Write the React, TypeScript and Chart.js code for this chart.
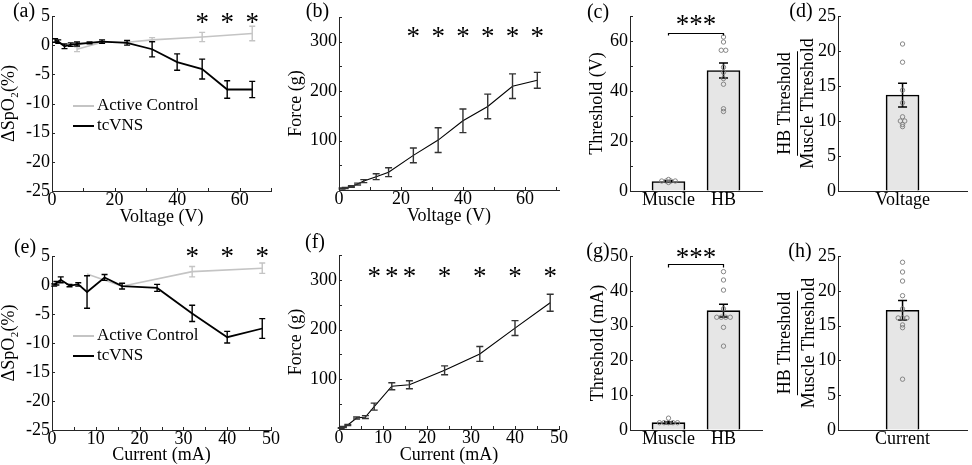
import React, { useEffect, useRef } from 'react';
import { Chart, registerables } from 'chart.js';

Chart.register(...registerables);

const FONT = "'Liberation Serif', 'Times New Roman', Times, serif";
Chart.defaults.font.family = FONT;

// ---------------- data ----------------
// (a) SpO2 change vs stimulation voltage
const voltageV = [1, 2, 4, 6, 8, 12, 16, 24, 32, 40, 48, 56, 64];
const spo2VoltageTcvns = [0.8, 0.6, -0.2, 0.1, 0.2, 0.4, 0.6, 0.4, -0.7, -2.9, -4.1, -7.6, -7.6];
const spo2VoltageTcvnsSem = [0.3, 0.3, 0.4, 0.3, 0.35, 0.15, 0.3, 0.4, 1.3, 1.4, 1.7, 1.5, 1.4];
const voltageControlV = [8, 16, 24, 32, 48, 64];
const spo2VoltageControl = [-0.7, 0.5, 0.5, 0.9, 1.4, 2.0];
const spo2VoltageControlSem = [0.4, 0.2, 0.2, 0.4, 0.8, 1.25];
const spo2VoltageStars = [48, 56, 64];

// (b) force vs voltage
const forceVoltage = [3, 4, 7, 12, 18, 27, 36, 70, 101, 140, 169, 210, 222];
const forceVoltageSem = [1, 1, 1.5, 2, 3, 6, 9, 15, 25, 24, 25, 25, 16];
const forceVoltageStars = [24, 32, 40, 48, 56, 64];

// (e) SpO2 change vs current
const currentMA = [0.5, 1, 2, 4, 6, 8, 12, 16, 24, 32, 40, 48];
const spo2CurrentTcvns = [0.0, 0.3, 0.9, -0.1, 0.1, -1.2, 1.3, -0.2, -0.5, -4.9, -9.0, -7.5];
const spo2CurrentTcvnsSem = [0.2, 0.3, 0.5, 0.2, 0.3, 2.8, 0.5, 0.5, 0.6, 1.4, 1.0, 1.7];
const currentControlMA = [8, 16, 32, 48];
const spo2CurrentControl = [1.9, -0.2, 2.3, 2.9];
const spo2CurrentControlSem = [0, 0, 0.9, 0.9];
const spo2CurrentStars = [32, 40, 48];

// (f) force vs current
const forceCurrent = [2, 4, 8, 22, 24, 45, 86, 89, 118, 151, 203, 254];
const forceCurrentSem = [0.5, 1, 1, 2, 3, 7, 7, 8, 9, 15, 15, 17];
const forceCurrentStars = [8, 12, 16, 24, 32, 40, 48];

// (c) / (g) thresholds
const groups = ['Muscle', 'HB'];
const thresholdV = [3.8, 48.2];
const thresholdVSem = [0.3, 3.0];
const thresholdVMuscleDots = [4.0, 4.0, 4.0, 4.0, 4.6, 3.4];
const thresholdVHbDots = [61.6, 59.6, 56.3, 56.3, 49.5, 47.5, 45.0, 42.7, 32.9, 31.8];
const thresholdMA = [2.1, 34.3];
const thresholdMASem = [0.3, 1.8];
const thresholdMAMuscleDots = [2.1, 2.1, 2.1, 2.1, 2.1, 3.4];
const thresholdMAHbDots = [45.5, 43.1, 40.2, 34.8, 32.4, 32.4, 32.4, 32.4, 29.5, 24.1];

// (d) / (h) HB threshold / muscle threshold ratio
const ratioVoltageCat = ['Voltage'];
const ratioVoltage = [13.7];
const ratioVoltageSem = [1.7];
const ratioVoltageDots = [21.0, 18.4, 14.4, 12.6, 10.6, 10.0, 10.0, 9.5, 9.2];
const ratioCurrentCat = ['Current'];
const ratioCurrent = [17.2];
const ratioCurrentSem = [1.4];
const ratioCurrentDots = [24.1, 22.7, 21.4, 19.3, 17.4, 16.1, 16.1, 16.1, 15.1, 14.7, 7.3];

// tick values
const spo2Ticks = [-25, -20, -15, -10, -5, 0, 5];
const voltageTicks = [0, 10, 20, 30, 40, 50, 60, 70];
const voltageLabels = [0, 20, 40, 60];
const forceTicks = [50, 100, 150, 200, 250, 300, 350];
const forceLabels = [100, 200, 300];
const currentTicks = [0, 5, 10, 15, 20, 25, 30, 35, 40, 45, 50];
const currentLabels = [0, 10, 20, 30, 40, 50];
const thrVTicks = [0, 10, 20, 30, 40, 50, 60, 70];
const thrVLabels = [0, 20, 40, 60];
const thrMATicks = [0, 10, 20, 30, 40, 50];
const ratioTicks = [0, 5, 10, 15, 20, 25];

// ---------------- styling ----------------
const AXIS = '#262626';
const GRAY = '#c4c4c4';
const TICK_SIZE = 18;
const TITLE_SIZE = 18;
const TL = 3;

type Box = { left: number; top: number; width: number; height: number };
type Area = { left: number; top: number; right: number; bottom: number };
interface AxisSpec {
  min: number;
  max: number;
  ticks: number[];
  label: (v: number) => string;
  title?: string | string[];
  titleCenter?: number;
  titleLineHeight?: number;
  innerTicks?: boolean;
}
interface PanelSpec {
  tag: string;
  tagPos: [number, number];
  box: Box;
  area: Area;
  type: 'line' | 'bar';
  datasets: any[];
  x: AxisSpec;
  y: AxisSpec;
  stars?: { xs: number[]; y: number; text?: string };
  bracket?: { x1: number; x2: number; y: number; drop: number };
  legend?: { order: number[]; ys: number[] };
  fraction?: boolean;
}

const pts = (xs: number[], ys: number[]) => xs.map((x, i) => ({ x, y: ys[i] }));
const only = (list: number[]) => (v: number) => (list.includes(v) ? String(v) : '');

function swarm(values: number[], center: number, step: number) {
  const counts = new Map<number, number>();
  values.forEach((v) => counts.set(v, (counts.get(v) || 0) + 1));
  const seen = new Map<number, number>();
  return values.map((v) => {
    const n = counts.get(v)!;
    const k = seen.get(v) || 0;
    seen.set(v, k + 1);
    return { x: center + (k - (n - 1) / 2) * step, y: v };
  });
}

function lineDs(label: string, xs: number[], ys: number[], errs: number[], color: string, width: number, errColor: string, cap: number, order: number) {
  return {
    type: 'line',
    label,
    data: pts(xs, ys),
    borderColor: color,
    borderWidth: width,
    pointRadius: 0,
    tension: 0,
    fill: false,
    order,
    errors: errs,
    errorColor: errColor,
    capHalf: cap,
    errorWidth: 1.4,
  };
}

function barDs(xs: number[], ys: number[], errs: number[]) {
  return {
    type: 'bar',
    data: pts(xs, ys),
    backgroundColor: '#e6e6e6',
    borderColor: '#000',
    borderWidth: 1.6,
    barThickness: 33,
    order: 2,
    errors: errs,
    errorColor: '#000',
    capHalf: 4.5,
    errorWidth: 1.5,
  };
}

function dotDs(points: { x: number; y: number }[]) {
  return {
    type: 'scatter',
    data: points,
    pointRadius: 2.2,
    pointBorderWidth: 0.9,
    pointBorderColor: '#7a7a7a',
    pointBackgroundColor: 'rgba(255,255,255,0)',
    showLine: false,
    order: 1,
  };
}

function decor(spec: PanelSpec) {
  return {
    id: 'decor',
    afterDatasetDraw(chart: any, args: any) {
      const ds = chart.data.datasets[args.index];
      if (!ds.errors) return;
      const ctx = chart.ctx;
      const ys = chart.scales.y;
      ctx.save();
      ctx.strokeStyle = ds.errorColor;
      ctx.lineWidth = ds.errorWidth;
      args.meta.data.forEach((el: any, i: number) => {
        const e = ds.errors[i];
        if (!e) return;
        const v = ds.data[i].y;
        const x = el.x;
        const y1 = ys.getPixelForValue(v + e);
        const y2 = ys.getPixelForValue(v - e);
        const w = ds.capHalf;
        ctx.beginPath();
        ctx.moveTo(x, y1);
        ctx.lineTo(x, y2);
        ctx.moveTo(x - w, y1);
        ctx.lineTo(x + w, y1);
        ctx.moveTo(x - w, y2);
        ctx.lineTo(x + w, y2);
        ctx.stroke();
      });
      ctx.restore();
    },
    afterDraw(chart: any) {
      const ctx = chart.ctx;
      const ca = chart.chartArea;
      const xs = chart.scales.x;
      const ys = chart.scales.y;
      ctx.save();
      // inward tick marks
      ctx.strokeStyle = AXIS;
      ctx.lineWidth = 1;
      ctx.beginPath();
      if (spec.x.innerTicks !== false) {
        xs.ticks.forEach((t: any) => {
          const p = Math.round(xs.getPixelForValue(t.value)) + 0.5;
          ctx.moveTo(p, ca.bottom);
          ctx.lineTo(p, ca.bottom - TL);
        });
      }
      ys.ticks.forEach((t: any) => {
        const p = Math.round(ys.getPixelForValue(t.value)) + 0.5;
        ctx.moveTo(ca.left, p);
        ctx.lineTo(ca.left + TL, p);
      });
      ctx.stroke();

      // significance stars
      const drawStar = (text: string, x: number, yc: number) => {
        ctx.font = `27px ${FONT}`;
        ctx.fillStyle = '#000';
        ctx.textAlign = 'center';
        ctx.textBaseline = 'alphabetic';
        const m = ctx.measureText(text);
        const base = yc + (m.actualBoundingBoxAscent - m.actualBoundingBoxDescent) / 2;
        ctx.fillText(text, x, base);
      };
      if (spec.stars) {
        const yc = ys.getPixelForValue(spec.stars.y);
        spec.stars.xs.forEach((v) => drawStar(spec.stars!.text || '*', xs.getPixelForValue(v), yc));
      }
      if (spec.bracket) {
        const b = spec.bracket;
        const x1 = xs.getPixelForValue(b.x1);
        const x2 = xs.getPixelForValue(b.x2);
        const y = Math.round(ys.getPixelForValue(b.y)) + 0.5;
        ctx.strokeStyle = '#000';
        ctx.lineWidth = 1.2;
        ctx.beginPath();
        ctx.moveTo(x1, y + b.drop);
        ctx.lineTo(x1, y);
        ctx.lineTo(x2, y);
        ctx.lineTo(x2, y + b.drop);
        ctx.stroke();
      }
      // legend inside plot
      if (spec.legend) {
        ctx.font = `17px ${FONT}`;
        ctx.textAlign = 'left';
        ctx.textBaseline = 'middle';
        spec.legend.order.forEach((di, k) => {
          const ds = chart.data.datasets[di];
          const y = spec.legend!.ys[k] - spec.box.top;
          ctx.strokeStyle = ds.borderColor;
          ctx.lineWidth = 2;
          ctx.beginPath();
          ctx.moveTo(ca.left + 21, y);
          ctx.lineTo(ca.left + 42, y);
          ctx.stroke();
          ctx.fillStyle = '#000';
          ctx.fillText(ds.label, ca.left + 45, y);
        });
      }
      // fraction bar for ratio title
      if (spec.fraction) {
        const lh = TITLE_SIZE * (spec.y.titleLineHeight || 1);
        const x = Math.round(spec.y.titleCenter! - spec.box.left + lh / 2) + 0.5;
        ctx.font = `${TITLE_SIZE}px ${FONT}`;
        const t = Array.isArray(spec.y.title) ? spec.y.title[0] : '';
        const half = ctx.measureText(t).width / 2 + 1;
        const yc = (ca.top + ca.bottom) / 2;
        ctx.strokeStyle = '#000';
        ctx.lineWidth = 1;
        ctx.beginPath();
        ctx.moveTo(x, yc - half);
        ctx.lineTo(x, yc + half);
        ctx.stroke();
      }
      // panel tag
      ctx.font = `20px ${FONT}`;
      ctx.fillStyle = '#000';
      ctx.textAlign = 'center';
      ctx.textBaseline = 'middle';
      ctx.fillText(spec.tag, spec.tagPos[0] - spec.box.left, spec.tagPos[1] - spec.box.top);
      ctx.restore();
    },
  };
}

function buildConfig(spec: PanelSpec) {
  const { box, area } = spec;
  const yW = area.left - box.left;
  const xH = box.top + box.height - area.bottom;
  const padTop = area.top - box.top;
  const padRight = box.left + box.width - area.right;
  const yLH = spec.y.titleLineHeight || 1;
  const xTitlePad = spec.x.titleCenter !== undefined ? box.top + box.height - spec.x.titleCenter - TITLE_SIZE / 2 : 0;
  const yTitlePad = spec.y.titleCenter !== undefined ? spec.y.titleCenter - box.left - (TITLE_SIZE * yLH) / 2 : 0;
  const tickFont = { family: FONT, size: TICK_SIZE, lineHeight: 1 };
  return {
    type: spec.type,
    data: { datasets: spec.datasets },
    options: {
      responsive: false,
      maintainAspectRatio: false,
      animation: false,
      events: [],
      layout: { padding: { left: 0, top: padTop, right: padRight, bottom: 0 } },
      plugins: { legend: { display: false }, tooltip: { enabled: false } },
      scales: {
        x: {
          type: 'linear',
          position: 'bottom',
          min: spec.x.min,
          max: spec.x.max,
          offset: false,
          afterBuildTicks: (s: any) => {
            s.ticks = spec.x.ticks.map((v) => ({ value: v }));
          },
          afterFit: (s: any) => {
            s.height = xH;
          },
          ticks: {
            autoSkip: false,
            maxRotation: 0,
            minRotation: 0,
            padding: 0,
            color: '#000',
            font: tickFont,
            callback: (v: any) => spec.x.label(Number(v)),
          },
          grid: { display: true, drawOnChartArea: false, drawTicks: false },
          border: { display: true, color: AXIS, width: 1 },
          title: spec.x.title
            ? {
                display: true,
                text: spec.x.title,
                color: '#000',
                font: { family: FONT, size: TITLE_SIZE, lineHeight: 1 },
                padding: { top: 0, bottom: xTitlePad },
              }
            : { display: false },
        },
        y: {
          type: 'linear',
          position: 'left',
          min: spec.y.min,
          max: spec.y.max,
          afterBuildTicks: (s: any) => {
            s.ticks = spec.y.ticks.map((v) => ({ value: v }));
          },
          afterFit: (s: any) => {
            s.width = yW;
          },
          ticks: {
            autoSkip: false,
            padding: 2,
            color: '#000',
            font: tickFont,
            callback: (v: any) => spec.y.label(Number(v)),
          },
          grid: { display: true, drawOnChartArea: false, drawTicks: false },
          border: { display: true, color: AXIS, width: 1 },
          title: spec.y.title
            ? {
                display: true,
                text: spec.y.title,
                color: '#000',
                font: { family: FONT, size: TITLE_SIZE, lineHeight: yLH },
                padding: { top: yTitlePad, bottom: 0 },
              }
            : { display: false },
        },
      },
    },
    plugins: [decor(spec)],
  };
}

// ---------------- panel specs ----------------
const ROW1 = { top: 0, height: 232 };
const ROW2 = { top: 232, height: 233 };
const COL1 = { left: 0, width: 280 };
const COL2 = { left: 280, width: 290 };
const COL3 = { left: 570, width: 202 };
const COL4 = { left: 772, width: 200 };

const SPO2_TITLE = 'ΔSpO₂(%)';

const specs: PanelSpec[] = [
  {
    tag: '(a)',
    tagPos: [24, 11.7],
    box: { ...COL1, ...ROW1 },
    area: { left: 52, top: 16, right: 271, bottom: 191 },
    type: 'line',
    datasets: [
      lineDs('tcVNS', voltageV, spo2VoltageTcvns, spo2VoltageTcvnsSem, '#000', 1.8, '#000', 3, 0),
      lineDs('Active Control', voltageControlV, spo2VoltageControl, spo2VoltageControlSem, GRAY, 1.6, GRAY, 3, 1),
    ],
    x: { min: 0, max: 70, ticks: voltageTicks, label: only(voltageLabels), title: 'Voltage (V)', titleCenter: 217 },
    y: { min: -25, max: 5, ticks: spo2Ticks, label: (v) => String(v), title: SPO2_TITLE, titleCenter: 9 },
    stars: { xs: spo2VoltageStars, y: 4.6 },
    legend: { order: [1, 0], ys: [106, 126] },
  },
  {
    tag: '(b)',
    tagPos: [317.5, 11.7],
    box: { ...COL2, ...ROW1 },
    area: { left: 339, top: 17, right: 559, bottom: 190 },
    type: 'line',
    datasets: [lineDs('Force', voltageV, forceVoltage, forceVoltageSem, '#000', 1.1, '#333', 3.5, 0)],
    x: { min: 0, max: 71, ticks: voltageTicks, label: only(voltageLabels), title: 'Voltage (V)', titleCenter: 216 },
    y: { min: 0, max: 350, ticks: forceTicks, label: only(forceLabels), title: 'Force (g)', titleCenter: 296 },
    stars: { xs: forceVoltageStars, y: 318 },
  },
  {
    tag: '(c)',
    tagPos: [598, 12.5],
    box: { ...COL3, ...ROW1 },
    area: { left: 630, top: 16, right: 762, bottom: 191 },
    type: 'bar',
    datasets: [
      dotDs([...swarm(thresholdVMuscleDots, 1, 0.082), ...swarm(thresholdVHbDots, 2, 0.082)]),
      barDs([1, 2], thresholdV, thresholdVSem),
    ],
    x: { min: 0.3, max: 2.7, ticks: [1, 2], label: (v) => groups[Math.round(v) - 1] || '', innerTicks: false },
    y: { min: 0, max: 70, ticks: thrVTicks, label: only(thrVLabels), title: 'Threshold (V)', titleCenter: 597.5 },
    stars: { xs: [1.5], y: 68.3, text: '***' },
    bracket: { x1: 1, x2: 2, y: 63.4, drop: 2 },
  },
  {
    tag: '(d)',
    tagPos: [801, 11.7],
    box: { ...COL4, ...ROW1 },
    area: { left: 838, top: 16, right: 971, bottom: 191 },
    type: 'bar',
    datasets: [dotDs(swarm(ratioVoltageDots, 1, 0.068)), barDs([1], ratioVoltage, ratioVoltageSem)],
    x: { min: 0, max: 2, ticks: [1], label: (v) => ratioVoltageCat[Math.round(v) - 1] || '', innerTicks: false },
    y: {
      min: 0,
      max: 25,
      ticks: ratioTicks,
      label: (v) => String(v),
      title: ['HB Threshold', 'Muscle Threshold'],
      titleCenter: 785,
      titleLineHeight: 1.3,
    },
    fraction: true,
  },
  {
    tag: '(e)',
    tagPos: [25, 247.5],
    box: { ...COL1, ...ROW2 },
    area: { left: 52, top: 256, right: 271, bottom: 430 },
    type: 'line',
    datasets: [
      lineDs('tcVNS', currentMA, spo2CurrentTcvns, spo2CurrentTcvnsSem, '#000', 1.8, '#000', 3, 0),
      lineDs('Active Control', currentControlMA, spo2CurrentControl, spo2CurrentControlSem, GRAY, 1.6, GRAY, 3, 1),
    ],
    x: { min: 0, max: 50, ticks: currentTicks, label: only(currentLabels), title: 'Current (mA)', titleCenter: 455 },
    y: { min: -25, max: 5, ticks: spo2Ticks, label: (v) => String(v), title: SPO2_TITLE, titleCenter: 9 },
    stars: { xs: spo2CurrentStars, y: 5.57 },
    legend: { order: [1, 0], ys: [336, 356] },
  },
  {
    tag: '(f)',
    tagPos: [315, 243],
    box: { ...COL2, ...ROW2 },
    area: { left: 339, top: 255, right: 559, bottom: 429 },
    type: 'line',
    datasets: [lineDs('Force', currentMA, forceCurrent, forceCurrentSem, '#000', 1.1, '#333', 3.5, 0)],
    x: { min: 0, max: 50, ticks: currentTicks, label: only(currentLabels), title: 'Current (mA)', titleCenter: 455 },
    y: { min: 0, max: 350, ticks: forceTicks, label: only(forceLabels), title: 'Force (g)', titleCenter: 296 },
    stars: { xs: forceCurrentStars, y: 315 },
  },
  {
    tag: '(g)',
    tagPos: [598, 251.7],
    box: { ...COL3, ...ROW2 },
    area: { left: 630, top: 256, right: 762, bottom: 430 },
    type: 'bar',
    datasets: [
      dotDs([...swarm(thresholdMAMuscleDots, 1, 0.082), ...swarm(thresholdMAHbDots, 2, 0.082)]),
      barDs([1, 2], thresholdMA, thresholdMASem),
    ],
    x: { min: 0.3, max: 2.7, ticks: [1, 2], label: (v) => groups[Math.round(v) - 1] || '', innerTicks: false },
    y: { min: 0, max: 50, ticks: thrMATicks, label: (v) => String(v), title: 'Threshold (mA)', titleCenter: 598.3 },
    stars: { xs: [1.5], y: 50.8, text: '***' },
    bracket: { x1: 1, x2: 2, y: 47.6, drop: 3 },
  },
  {
    tag: '(h)',
    tagPos: [800, 251.7],
    box: { ...COL4, ...ROW2 },
    area: { left: 838, top: 256, right: 971, bottom: 430 },
    type: 'bar',
    datasets: [dotDs(swarm(ratioCurrentDots, 1, 0.068)), barDs([1], ratioCurrent, ratioCurrentSem)],
    x: { min: 0, max: 2, ticks: [1], label: (v) => ratioCurrentCat[Math.round(v) - 1] || '', innerTicks: false },
    y: {
      min: 0,
      max: 25,
      ticks: ratioTicks,
      label: (v) => String(v),
      title: ['HB Threshold', 'Muscle Threshold'],
      titleCenter: 785.5,
      titleLineHeight: 1.3,
    },
    fraction: true,
  },
];

function Panel({ spec }: { spec: PanelSpec }) {
  const ref = useRef<HTMLCanvasElement>(null);
  useEffect(() => {
    const chart = new Chart(ref.current as HTMLCanvasElement, buildConfig(spec) as any);
    return () => chart.destroy();
  }, [spec]);
  return (
    <canvas
      ref={ref}
      width={spec.box.width}
      height={spec.box.height}
      style={{
        position: 'absolute',
        left: spec.box.left,
        top: spec.box.top,
        width: spec.box.width,
        height: spec.box.height,
      }}
    />
  );
}

export default function App() {
  return (
    <div
      style={{
        position: 'fixed',
        left: 0,
        top: 0,
        width: 972,
        height: 465,
        background: '#fff',
        overflow: 'hidden',
      }}
    >
      {specs.map((s) => (
        <Panel key={s.tag} spec={s} />
      ))}
    </div>
  );
}
